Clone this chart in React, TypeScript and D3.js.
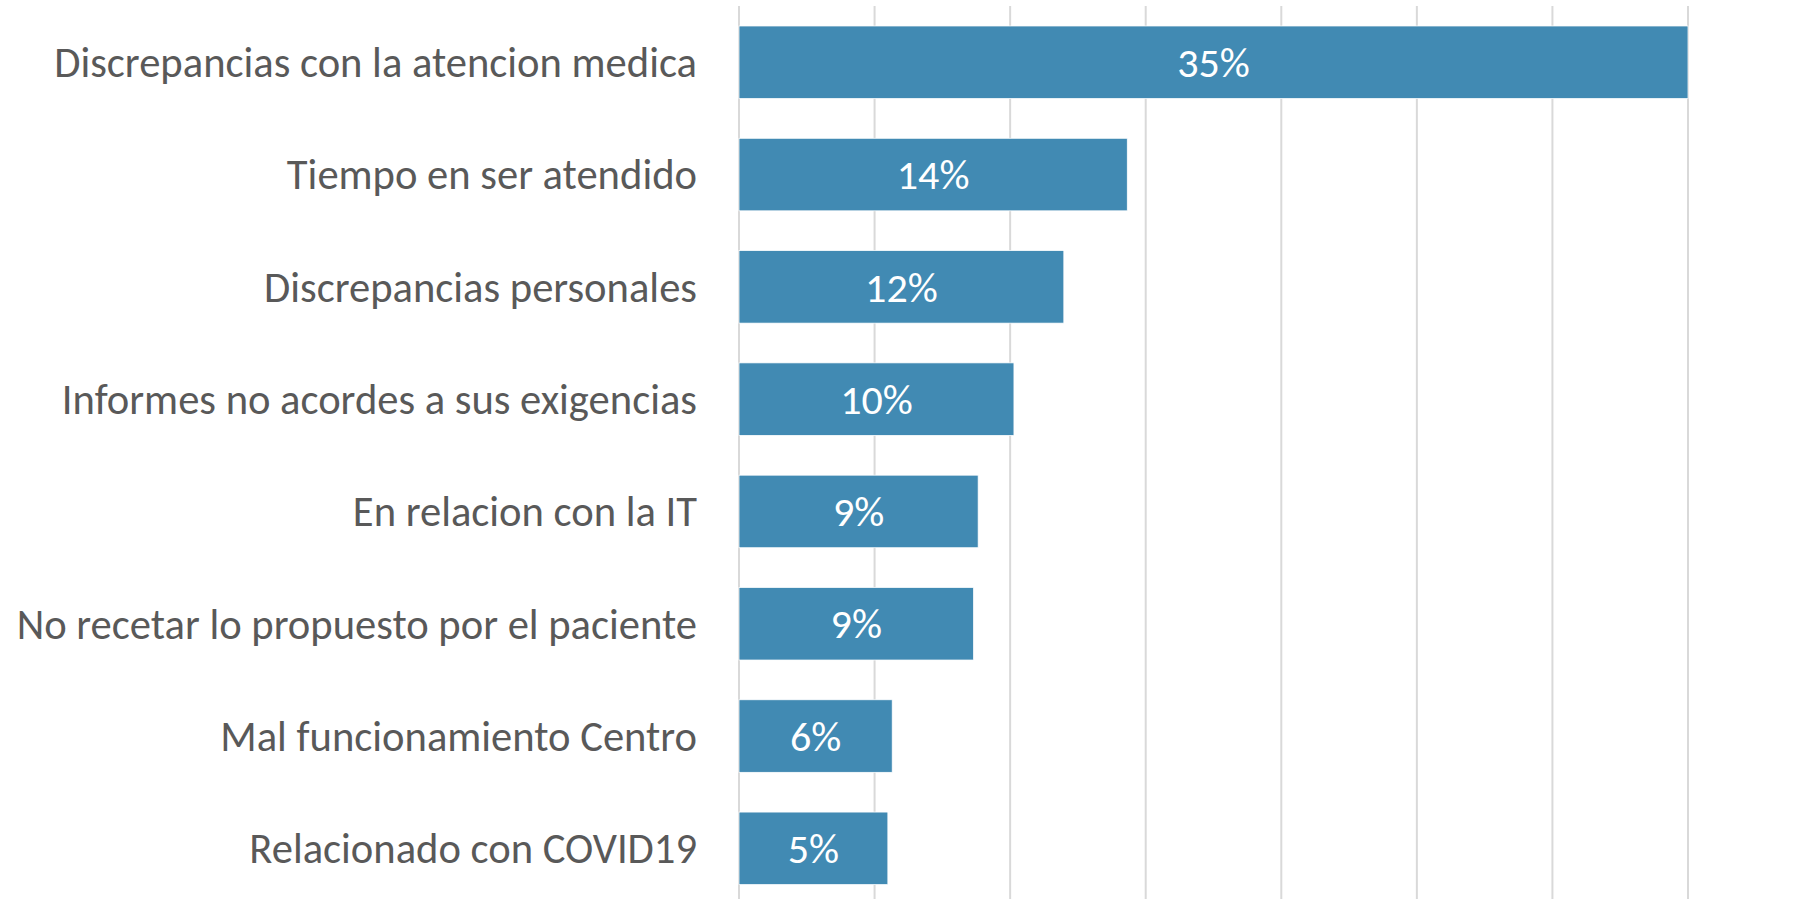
import React from "react";
import * as d3 from "d3";

const categories = [
  "Discrepancias con la atencion medica",
  "Tiempo en ser atendido",
  "Discrepancias personales",
  "Informes no acordes a sus exigencias",
  "En relacion con la IT",
  "No recetar lo propuesto por el paciente",
  "Mal funcionamiento Centro",
  "Relacionado con COVID19",
];
const values = [35.0, 14.32, 11.98, 10.14, 8.82, 8.65, 5.65, 5.49];
const valueLabels = ["35%", "14%", "12%", "10%", "9%", "9%", "6%", "5%"];
const gridTicks = [0, 5, 10, 15, 20, 25, 30, 35];

const W = 1811;
const H = 899;

export default function App() {
  const x = d3.scaleLinear().domain([0, 35]).range([739, 1688]);
  const y = d3
    .scaleBand<string>()
    .domain(categories)
    .range([6, 904.6])
    .paddingInner(0.354)
    .paddingOuter(0.178);
  const font = "Carlito, Calibri, Lato, 'Open Sans', sans-serif";
  return (
    <div style={{ position: "absolute", left: 0, top: 0 }}>
      <svg width={W} height={H} style={{ display: "block", background: "#fff" }}>
        <g>
          {gridTicks.map((t) => (
            <line
              key={t}
              x1={x(t)}
              x2={x(t)}
              y1={6}
              y2={H}
              stroke="#d9d9d9"
              strokeWidth={2}
            />
          ))}
        </g>
        <g>
          {categories.map((c, i) => (
            <rect
              key={c}
              x={x(0)}
              y={y(c)}
              width={x(values[i]) - x(0)}
              height={y.bandwidth()}
              fill="#418AB3"
              stroke="#ffffff"
              strokeWidth={0.75}
            />
          ))}
        </g>
        <g>
          {categories.map((c, i) => (
            <text
              key={c}
              x={(x(0) + x(values[i])) / 2}
              y={(y(c) as number) + y.bandwidth() / 2}
              dy="0.35em"
              textAnchor="middle"
              fill="#ffffff"
              fontFamily={font}
              fontSize={42}
            >
              {valueLabels[i]}
            </text>
          ))}
        </g>
        <g>
          {categories.map((c) => (
            <text
              key={c}
              x={697}
              y={(y(c) as number) + y.bandwidth() / 2}
              dy="0.35em"
              textAnchor="end"
              fill="#595959"
              fontFamily={font}
              fontSize={42.6}
            >
              {c}
            </text>
          ))}
        </g>
      </svg>
    </div>
  );
}
